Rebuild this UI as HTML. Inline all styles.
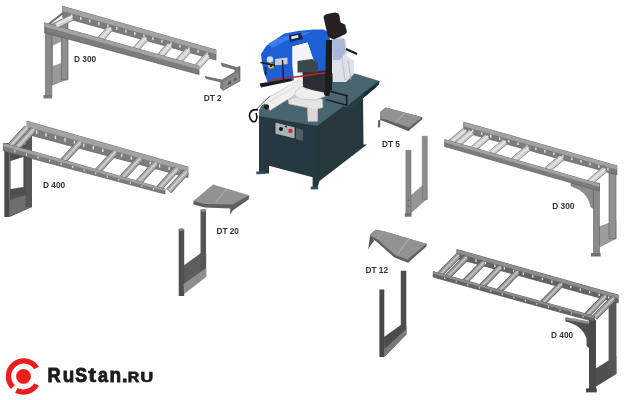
<!DOCTYPE html>
<html><head><meta charset="utf-8"><style>
html,body{margin:0;padding:0;background:#fff;width:633px;height:400px;overflow:hidden}
svg{display:block}
#w{}
text{font-family:"Liberation Sans",sans-serif}
</style></head><body><div id="w">
<svg width="633" height="400" viewBox="0 0 633 400"><defs><filter id="bl" x="0" y="0" width="100%" height="100%"><feGaussianBlur stdDeviation="0.45"/></filter></defs><rect width="633" height="400" fill="#fff"/><g filter="url(#bl)"><rect width="633" height="400" fill="#fff"/><polygon points="51.8,24.0 61.4,20.0 67.8,20.0 67.8,78.8 51.8,85.2" fill="#9a9a9a" stroke="#666" stroke-width="0.6" stroke-linejoin="round"/>
<polygon points="52.9,45.5 61.4,41.5 61.4,63.0 52.9,66.0" fill="#ffffff"/>
<polygon points="45.4,25.0 51.8,25.0 51.8,97.0 45.4,97.0" fill="#8a8a8a" stroke="#5c5c5c" stroke-width="0.6" stroke-linejoin="round"/>
<polygon points="61.4,19.3 67.8,19.3 67.8,80.0 61.4,80.0" fill="#8e8e8e" stroke="#5c5c5c" stroke-width="0.6" stroke-linejoin="round"/>
<polygon points="43.5,95.0 52.0,95.0 52.0,98.5 43.5,98.5" fill="#7a7a7a"/>
<polygon points="62.7,6.3 216.0,50.0 216.0,60.0 62.7,17.3" fill="#7c7c7c" stroke="#5c5c5c" stroke-width="0.7" stroke-linejoin="round"/>
<polygon points="62.7,6.3 216.0,50.0 216.0,54.2 62.7,10.9" fill="#a3a3a3"/>
<rect x="71.1" y="14.3" width="1.3" height="3.1" fill="#e8e8e8"/>
<rect x="80.1" y="16.9" width="1.3" height="3.0" fill="#e8e8e8"/>
<rect x="89.2" y="19.4" width="1.3" height="3.0" fill="#e8e8e8"/>
<rect x="98.2" y="22.0" width="1.3" height="3.0" fill="#e8e8e8"/>
<rect x="107.2" y="24.5" width="1.3" height="3.0" fill="#e8e8e8"/>
<rect x="116.2" y="27.0" width="1.3" height="3.0" fill="#e8e8e8"/>
<rect x="125.2" y="29.6" width="1.3" height="3.0" fill="#e8e8e8"/>
<rect x="134.2" y="32.1" width="1.3" height="2.9" fill="#e8e8e8"/>
<rect x="143.3" y="34.7" width="1.3" height="2.9" fill="#e8e8e8"/>
<rect x="152.3" y="37.2" width="1.3" height="2.9" fill="#e8e8e8"/>
<rect x="161.3" y="39.8" width="1.3" height="2.9" fill="#e8e8e8"/>
<rect x="170.3" y="42.3" width="1.3" height="2.9" fill="#e8e8e8"/>
<rect x="179.3" y="44.8" width="1.3" height="2.9" fill="#e8e8e8"/>
<rect x="188.3" y="47.4" width="1.3" height="2.8" fill="#e8e8e8"/>
<rect x="197.4" y="49.9" width="1.3" height="2.8" fill="#e8e8e8"/>
<rect x="206.4" y="52.5" width="1.3" height="2.8" fill="#e8e8e8"/>
<line x1="110.2" y1="28.4" x2="100.3" y2="39.3" stroke="#7a7a7a" stroke-width="6.7" stroke-linecap="butt"/>
<line x1="110.2" y1="28.4" x2="100.3" y2="39.3" stroke="#cbcbcb" stroke-width="5.5" stroke-linecap="butt"/>
<line x1="110.9" y1="27.7" x2="101.0" y2="38.6" stroke="#e6e6e6" stroke-width="1.9249999999999998" stroke-linecap="butt"/>
<line x1="145.5" y1="38.3" x2="135.6" y2="49.2" stroke="#7a7a7a" stroke-width="6.7" stroke-linecap="butt"/>
<line x1="145.5" y1="38.3" x2="135.6" y2="49.2" stroke="#cbcbcb" stroke-width="5.5" stroke-linecap="butt"/>
<line x1="146.1" y1="37.6" x2="136.2" y2="48.5" stroke="#e6e6e6" stroke-width="1.9249999999999998" stroke-linecap="butt"/>
<line x1="170.0" y1="45.1" x2="160.1" y2="56.1" stroke="#7a7a7a" stroke-width="6.7" stroke-linecap="butt"/>
<line x1="170.0" y1="45.1" x2="160.1" y2="56.1" stroke="#cbcbcb" stroke-width="5.5" stroke-linecap="butt"/>
<line x1="170.7" y1="44.5" x2="160.7" y2="55.4" stroke="#e6e6e6" stroke-width="1.9249999999999998" stroke-linecap="butt"/>
<line x1="188.4" y1="50.3" x2="178.5" y2="61.2" stroke="#7a7a7a" stroke-width="6.7" stroke-linecap="butt"/>
<line x1="188.4" y1="50.3" x2="178.5" y2="61.2" stroke="#cbcbcb" stroke-width="5.5" stroke-linecap="butt"/>
<line x1="189.1" y1="49.6" x2="179.1" y2="60.6" stroke="#e6e6e6" stroke-width="1.9249999999999998" stroke-linecap="butt"/>
<line x1="207.6" y1="55.6" x2="197.6" y2="66.6" stroke="#7a7a7a" stroke-width="6.7" stroke-linecap="butt"/>
<line x1="207.6" y1="55.6" x2="197.6" y2="66.6" stroke="#cbcbcb" stroke-width="5.5" stroke-linecap="butt"/>
<line x1="208.2" y1="55.0" x2="198.3" y2="65.9" stroke="#e6e6e6" stroke-width="1.9249999999999998" stroke-linecap="butt"/>
<polygon points="44.7,22.7 199.0,66.0 199.0,74.5 44.7,32.7" fill="#7c7c7c" stroke="#5c5c5c" stroke-width="0.7" stroke-linejoin="round"/>
<polygon points="44.7,22.7 199.0,66.0 199.0,69.4 44.7,26.7" fill="#a3a3a3"/>
<line x1="63.0" y1="13.0" x2="49.0" y2="24.0" stroke="#6a6a6a" stroke-width="2" stroke-linecap="butt"/>
<line x1="72.0" y1="17.5" x2="56.0" y2="25.5" stroke="#7d7d7d" stroke-width="6.5" stroke-linecap="butt"/>
<line x1="72.0" y1="17.5" x2="56.0" y2="25.5" stroke="#d2d2d2" stroke-width="5" stroke-linecap="butt"/>
<line x1="72.5" y1="16.5" x2="56.5" y2="24.5" stroke="#ececec" stroke-width="1.6" stroke-linecap="butt"/>
<text x="74" y="61.6" font-family="Liberation Sans, sans-serif" font-size="8.3" font-weight="bold" fill="#333" >D 300</text>
<polygon points="221.5,63.0 236.5,67.5 240.0,66.5 240.0,81.0 223.0,90.5 220.5,88.0 221.0,82.0 206.0,78.5 205.0,76.5 222.0,80.0 235.0,72.0 235.0,69.5 222.0,66.0" fill="#7b7b7b" stroke="#505050" stroke-width="0.6" stroke-linejoin="round"/>
<polygon points="223.0,82.0 238.0,72.5 239.5,80.5 223.0,90.0" fill="#8a8a8a"/>
<polygon points="228.0,82.0 231.0,80.5 231.0,83.5 228.0,85.0" fill="#5a5a5a"/>
<polygon points="234.0,78.5 236.5,77.0 236.5,80.0 234.0,81.5" fill="#5a5a5a"/>
<text x="203.7" y="100.6" font-family="Liberation Sans, sans-serif" font-size="8.3" font-weight="bold" fill="#333" >DT 2</text>
<polygon points="9.6,150.0 25.5,144.0 32.0,144.0 32.0,207.0 9.6,217.0" fill="#4f4f4f"/>
<polygon points="10.6,161.0 23.4,157.0 23.4,187.0 10.6,189.0" fill="#ffffff"/>
<polygon points="9.6,200.0 32.0,193.0 32.0,207.0 9.6,216.0" fill="#6e6e6e"/>
<polygon points="4.3,143.0 9.6,143.0 9.6,217.0 4.3,217.0" fill="#4a4a4a"/>
<polygon points="25.5,135.0 32.0,135.0 32.0,207.0 25.5,207.0" fill="#555555"/>
<polygon points="27.0,121.2 188.0,167.0 188.0,177.5 27.0,134.2" fill="#7c7c7c" stroke="#5c5c5c" stroke-width="0.7" stroke-linejoin="round"/>
<polygon points="27.0,121.2 188.0,167.0 188.0,171.4 27.0,126.7" fill="#a3a3a3"/>
<rect x="35.9" y="130.3" width="1.3" height="3.6" fill="#e8e8e8"/>
<rect x="45.3" y="132.9" width="1.3" height="3.6" fill="#e8e8e8"/>
<rect x="54.8" y="135.6" width="1.3" height="3.5" fill="#e8e8e8"/>
<rect x="64.3" y="138.2" width="1.3" height="3.5" fill="#e8e8e8"/>
<rect x="73.8" y="140.8" width="1.3" height="3.4" fill="#e8e8e8"/>
<rect x="83.2" y="143.4" width="1.3" height="3.4" fill="#e8e8e8"/>
<rect x="92.7" y="146.0" width="1.3" height="3.4" fill="#e8e8e8"/>
<rect x="102.2" y="148.7" width="1.3" height="3.3" fill="#e8e8e8"/>
<rect x="111.6" y="151.3" width="1.3" height="3.3" fill="#e8e8e8"/>
<rect x="121.1" y="153.9" width="1.3" height="3.2" fill="#e8e8e8"/>
<rect x="130.6" y="156.5" width="1.3" height="3.2" fill="#e8e8e8"/>
<rect x="140.0" y="159.1" width="1.3" height="3.1" fill="#e8e8e8"/>
<rect x="149.5" y="161.8" width="1.3" height="3.1" fill="#e8e8e8"/>
<rect x="159.0" y="164.4" width="1.3" height="3.1" fill="#e8e8e8"/>
<rect x="168.5" y="167.0" width="1.3" height="3.0" fill="#e8e8e8"/>
<rect x="177.9" y="169.6" width="1.3" height="3.0" fill="#e8e8e8"/>
<line x1="27.0" y1="127.7" x2="10.3" y2="146.0" stroke="#5f5f5f" stroke-width="6.7" stroke-linecap="butt"/>
<line x1="27.0" y1="127.7" x2="10.3" y2="146.0" stroke="#a5a5a5" stroke-width="5.5" stroke-linecap="butt"/>
<line x1="27.7" y1="127.0" x2="10.9" y2="145.3" stroke="#cfcfcf" stroke-width="1.9249999999999998" stroke-linecap="butt"/>
<line x1="33.4" y1="129.5" x2="16.7" y2="147.8" stroke="#5f5f5f" stroke-width="6.7" stroke-linecap="butt"/>
<line x1="33.4" y1="129.5" x2="16.7" y2="147.8" stroke="#a5a5a5" stroke-width="5.5" stroke-linecap="butt"/>
<line x1="34.1" y1="128.8" x2="17.3" y2="147.1" stroke="#cfcfcf" stroke-width="1.9249999999999998" stroke-linecap="butt"/>
<line x1="80.1" y1="142.4" x2="63.1" y2="161.0" stroke="#5f5f5f" stroke-width="6.7" stroke-linecap="butt"/>
<line x1="80.1" y1="142.4" x2="63.1" y2="161.0" stroke="#a5a5a5" stroke-width="5.5" stroke-linecap="butt"/>
<line x1="80.8" y1="141.7" x2="63.7" y2="160.3" stroke="#cfcfcf" stroke-width="1.9249999999999998" stroke-linecap="butt"/>
<line x1="115.1" y1="152.1" x2="97.8" y2="170.9" stroke="#5f5f5f" stroke-width="6.7" stroke-linecap="butt"/>
<line x1="115.1" y1="152.1" x2="97.8" y2="170.9" stroke="#a5a5a5" stroke-width="5.5" stroke-linecap="butt"/>
<line x1="115.7" y1="151.4" x2="98.5" y2="170.2" stroke="#cfcfcf" stroke-width="1.9249999999999998" stroke-linecap="butt"/>
<line x1="139.7" y1="158.9" x2="122.3" y2="177.8" stroke="#5f5f5f" stroke-width="6.7" stroke-linecap="butt"/>
<line x1="139.7" y1="158.9" x2="122.3" y2="177.8" stroke="#a5a5a5" stroke-width="5.5" stroke-linecap="butt"/>
<line x1="140.4" y1="158.2" x2="122.9" y2="177.2" stroke="#cfcfcf" stroke-width="1.9249999999999998" stroke-linecap="butt"/>
<line x1="155.8" y1="163.3" x2="138.3" y2="182.4" stroke="#5f5f5f" stroke-width="6.7" stroke-linecap="butt"/>
<line x1="155.8" y1="163.3" x2="138.3" y2="182.4" stroke="#a5a5a5" stroke-width="5.5" stroke-linecap="butt"/>
<line x1="156.5" y1="162.7" x2="138.9" y2="181.7" stroke="#cfcfcf" stroke-width="1.9249999999999998" stroke-linecap="butt"/>
<line x1="176.7" y1="169.1" x2="159.1" y2="188.3" stroke="#5f5f5f" stroke-width="6.7" stroke-linecap="butt"/>
<line x1="176.7" y1="169.1" x2="159.1" y2="188.3" stroke="#a5a5a5" stroke-width="5.5" stroke-linecap="butt"/>
<line x1="177.4" y1="168.5" x2="159.7" y2="187.7" stroke="#cfcfcf" stroke-width="1.9249999999999998" stroke-linecap="butt"/>
<line x1="186.4" y1="171.8" x2="168.7" y2="191.0" stroke="#5f5f5f" stroke-width="6.7" stroke-linecap="butt"/>
<line x1="186.4" y1="171.8" x2="168.7" y2="191.0" stroke="#a5a5a5" stroke-width="5.5" stroke-linecap="butt"/>
<line x1="187.0" y1="171.1" x2="169.3" y2="190.4" stroke="#cfcfcf" stroke-width="1.9249999999999998" stroke-linecap="butt"/>
<polygon points="3.4,143.0 165.0,189.0 165.0,194.0 3.4,151.0" fill="#7c7c7c" stroke="#5c5c5c" stroke-width="0.7" stroke-linejoin="round"/>
<polygon points="3.4,143.0 165.0,189.0 165.0,191.0 3.4,146.2" fill="#a3a3a3"/>
<rect x="14.3" y="150.2" width="1.2" height="2.3" fill="#d8d8d8"/>
<rect x="25.9" y="153.4" width="1.2" height="2.3" fill="#d8d8d8"/>
<rect x="37.4" y="156.5" width="1.2" height="2.2" fill="#d8d8d8"/>
<rect x="49.0" y="159.7" width="1.2" height="2.1" fill="#d8d8d8"/>
<rect x="60.5" y="162.9" width="1.2" height="2.1" fill="#d8d8d8"/>
<rect x="72.1" y="166.1" width="1.2" height="2.0" fill="#d8d8d8"/>
<rect x="83.6" y="169.2" width="1.2" height="1.9" fill="#d8d8d8"/>
<rect x="95.1" y="172.4" width="1.2" height="1.9" fill="#d8d8d8"/>
<rect x="106.7" y="175.6" width="1.2" height="1.8" fill="#d8d8d8"/>
<rect x="118.2" y="178.8" width="1.2" height="1.8" fill="#d8d8d8"/>
<rect x="129.8" y="182.0" width="1.2" height="1.7" fill="#d8d8d8"/>
<rect x="141.3" y="185.1" width="1.2" height="1.6" fill="#d8d8d8"/>
<rect x="152.9" y="188.3" width="1.2" height="1.6" fill="#d8d8d8"/>
<text x="43" y="188.4" font-family="Liberation Sans, sans-serif" font-size="8.3" font-weight="bold" fill="#333" >D 400</text>
<polygon points="599.4,186.0 609.0,176.0 616.0,174.5 616.0,238.6 599.4,247.0" fill="#ffffff"/>
<polygon points="599.4,226.8 616.0,220.8 616.0,238.6 599.4,247.0" fill="#9c9c9c" stroke="#6a6a6a" stroke-width="0.5" stroke-linejoin="round"/>
<path d="M571,182 L594,186 L594,209 L591,207 Q588,191 571,186 Z" fill="#8c8c8c" stroke="#606060" stroke-width="0.5"/>
<polygon points="593.5,183.0 599.4,183.0 599.4,255.3 593.5,255.3" fill="#8a8a8a" stroke="#5a5a5a" stroke-width="0.6" stroke-linejoin="round"/>
<polygon points="609.0,172.0 616.0,172.0 616.0,238.6 609.0,238.6" fill="#929292" stroke="#5a5a5a" stroke-width="0.6" stroke-linejoin="round"/>
<polygon points="591.0,253.0 600.6,253.0 600.6,256.5 591.0,256.5" fill="#6e6e6e"/>
<polygon points="463.7,122.1 616.9,165.8 616.9,174.8 463.7,132.1" fill="#7c7c7c" stroke="#5c5c5c" stroke-width="0.7" stroke-linejoin="round"/>
<polygon points="463.7,122.1 616.9,165.8 616.9,169.6 463.7,126.3" fill="#a3a3a3"/>
<rect x="472.1" y="129.6" width="1.3" height="2.8" fill="#e8e8e8"/>
<rect x="481.1" y="132.2" width="1.3" height="2.8" fill="#e8e8e8"/>
<rect x="490.1" y="134.7" width="1.3" height="2.8" fill="#e8e8e8"/>
<rect x="499.1" y="137.3" width="1.3" height="2.7" fill="#e8e8e8"/>
<rect x="508.2" y="139.8" width="1.3" height="2.7" fill="#e8e8e8"/>
<rect x="517.2" y="142.3" width="1.3" height="2.7" fill="#e8e8e8"/>
<rect x="526.2" y="144.9" width="1.3" height="2.7" fill="#e8e8e8"/>
<rect x="535.2" y="147.4" width="1.3" height="2.7" fill="#e8e8e8"/>
<rect x="544.2" y="150.0" width="1.3" height="2.7" fill="#e8e8e8"/>
<rect x="553.2" y="152.5" width="1.3" height="2.6" fill="#e8e8e8"/>
<rect x="562.2" y="155.1" width="1.3" height="2.6" fill="#e8e8e8"/>
<rect x="571.2" y="157.6" width="1.3" height="2.6" fill="#e8e8e8"/>
<rect x="580.3" y="160.1" width="1.3" height="2.6" fill="#e8e8e8"/>
<rect x="589.3" y="162.7" width="1.3" height="2.6" fill="#e8e8e8"/>
<rect x="598.3" y="165.2" width="1.3" height="2.6" fill="#e8e8e8"/>
<rect x="607.3" y="167.8" width="1.3" height="2.5" fill="#e8e8e8"/>
<line x1="465.2" y1="130.5" x2="451.2" y2="142.4" stroke="#7a7a7a" stroke-width="6.7" stroke-linecap="butt"/>
<line x1="465.2" y1="130.5" x2="451.2" y2="142.4" stroke="#cbcbcb" stroke-width="5.5" stroke-linecap="butt"/>
<line x1="465.9" y1="129.9" x2="451.9" y2="141.7" stroke="#e6e6e6" stroke-width="1.9249999999999998" stroke-linecap="butt"/>
<line x1="471.4" y1="132.2" x2="457.3" y2="144.1" stroke="#7a7a7a" stroke-width="6.7" stroke-linecap="butt"/>
<line x1="471.4" y1="132.2" x2="457.3" y2="144.1" stroke="#cbcbcb" stroke-width="5.5" stroke-linecap="butt"/>
<line x1="472.0" y1="131.6" x2="457.9" y2="143.5" stroke="#e6e6e6" stroke-width="1.9249999999999998" stroke-linecap="butt"/>
<line x1="487.4" y1="136.7" x2="473.3" y2="148.7" stroke="#7a7a7a" stroke-width="6.7" stroke-linecap="butt"/>
<line x1="487.4" y1="136.7" x2="473.3" y2="148.7" stroke="#cbcbcb" stroke-width="5.5" stroke-linecap="butt"/>
<line x1="488.1" y1="136.1" x2="473.9" y2="148.1" stroke="#e6e6e6" stroke-width="1.9249999999999998" stroke-linecap="butt"/>
<line x1="505.1" y1="141.7" x2="490.8" y2="153.7" stroke="#7a7a7a" stroke-width="6.7" stroke-linecap="butt"/>
<line x1="505.1" y1="141.7" x2="490.8" y2="153.7" stroke="#cbcbcb" stroke-width="5.5" stroke-linecap="butt"/>
<line x1="505.7" y1="141.0" x2="491.4" y2="153.1" stroke="#e6e6e6" stroke-width="1.9249999999999998" stroke-linecap="butt"/>
<line x1="528.0" y1="148.1" x2="513.6" y2="160.3" stroke="#7a7a7a" stroke-width="6.7" stroke-linecap="butt"/>
<line x1="528.0" y1="148.1" x2="513.6" y2="160.3" stroke="#cbcbcb" stroke-width="5.5" stroke-linecap="butt"/>
<line x1="528.7" y1="147.5" x2="514.2" y2="159.6" stroke="#e6e6e6" stroke-width="1.9249999999999998" stroke-linecap="butt"/>
<line x1="561.7" y1="157.6" x2="547.0" y2="169.9" stroke="#7a7a7a" stroke-width="6.7" stroke-linecap="butt"/>
<line x1="561.7" y1="157.6" x2="547.0" y2="169.9" stroke="#cbcbcb" stroke-width="5.5" stroke-linecap="butt"/>
<line x1="562.4" y1="156.9" x2="547.7" y2="169.3" stroke="#e6e6e6" stroke-width="1.9249999999999998" stroke-linecap="butt"/>
<line x1="604.6" y1="169.6" x2="589.6" y2="182.2" stroke="#7a7a7a" stroke-width="6.7" stroke-linecap="butt"/>
<line x1="604.6" y1="169.6" x2="589.6" y2="182.2" stroke="#cbcbcb" stroke-width="5.5" stroke-linecap="butt"/>
<line x1="605.3" y1="168.9" x2="590.3" y2="181.5" stroke="#e6e6e6" stroke-width="1.9249999999999998" stroke-linecap="butt"/>
<polygon points="444.7,139.5 599.5,184.0 599.5,191.0 444.7,146.5" fill="#7c7c7c" stroke="#5c5c5c" stroke-width="0.7" stroke-linejoin="round"/>
<polygon points="444.7,139.5 599.5,184.0 599.5,186.8 444.7,142.3" fill="#a3a3a3"/>
<text x="552.3" y="209.4" font-family="Liberation Sans, sans-serif" font-size="8.3" font-weight="bold" fill="#333" >D 300</text>
<polygon points="595.4,319.0 608.6,306.0 616.4,304.4 616.4,374.0 595.4,387.0" fill="#ffffff"/>
<polygon points="595.4,368.7 616.4,355.6 616.4,374.0 595.4,387.0" fill="#505050"/>
<path d="M565.5,318 L590,322 L590,349 L586.5,346 L586.5,338.5 Q582,325 565.5,321.5 Z" fill="#4f4f4f"/>
<polygon points="565.5,317.0 595.5,322.5 595.5,325.0 565.5,320.0" fill="#8a8a8a"/>
<polygon points="589.0,320.0 596.0,320.0 596.0,391.0 589.0,391.0" fill="#4a4a4a"/>
<polygon points="608.6,300.0 616.4,300.0 616.4,374.0 608.6,374.0" fill="#575757"/>
<polygon points="586.0,388.4 596.7,388.4 596.7,392.4 586.0,392.4" fill="#444"/>
<polygon points="456.9,249.5 618.2,295.0 618.2,303.0 456.9,258.5" fill="#646464" stroke="#4a4a4a" stroke-width="0.7" stroke-linejoin="round"/>
<polygon points="456.9,249.5 618.2,295.0 618.2,298.4 456.9,253.3" fill="#8e8e8e"/>
<rect x="465.8" y="256.6" width="1.3" height="2.5" fill="#e8e8e8"/>
<rect x="475.3" y="259.3" width="1.3" height="2.5" fill="#e8e8e8"/>
<rect x="484.8" y="261.9" width="1.3" height="2.5" fill="#e8e8e8"/>
<rect x="494.3" y="264.6" width="1.3" height="2.5" fill="#e8e8e8"/>
<rect x="503.7" y="267.2" width="1.3" height="2.4" fill="#e8e8e8"/>
<rect x="513.2" y="269.9" width="1.3" height="2.4" fill="#e8e8e8"/>
<rect x="522.7" y="272.5" width="1.3" height="2.4" fill="#e8e8e8"/>
<rect x="532.2" y="275.2" width="1.3" height="2.4" fill="#e8e8e8"/>
<rect x="541.7" y="277.8" width="1.3" height="2.4" fill="#e8e8e8"/>
<rect x="551.2" y="280.5" width="1.3" height="2.4" fill="#e8e8e8"/>
<rect x="560.7" y="283.1" width="1.3" height="2.3" fill="#e8e8e8"/>
<rect x="570.2" y="285.8" width="1.3" height="2.3" fill="#e8e8e8"/>
<rect x="579.6" y="288.4" width="1.3" height="2.3" fill="#e8e8e8"/>
<rect x="589.1" y="291.1" width="1.3" height="2.3" fill="#e8e8e8"/>
<rect x="598.6" y="293.7" width="1.3" height="2.3" fill="#e8e8e8"/>
<rect x="608.1" y="296.4" width="1.3" height="2.3" fill="#e8e8e8"/>
<line x1="458.5" y1="255.3" x2="439.9" y2="274.4" stroke="#555555" stroke-width="6.2" stroke-linecap="butt"/>
<line x1="458.5" y1="255.3" x2="439.9" y2="274.4" stroke="#959595" stroke-width="5" stroke-linecap="butt"/>
<line x1="459.1" y1="254.7" x2="440.5" y2="273.8" stroke="#c4c4c4" stroke-width="1.75" stroke-linecap="butt"/>
<line x1="466.3" y1="257.5" x2="447.6" y2="276.6" stroke="#555555" stroke-width="6.2" stroke-linecap="butt"/>
<line x1="466.3" y1="257.5" x2="447.6" y2="276.6" stroke="#959595" stroke-width="5" stroke-linecap="butt"/>
<line x1="466.9" y1="256.9" x2="448.2" y2="276.0" stroke="#c4c4c4" stroke-width="1.75" stroke-linecap="butt"/>
<line x1="483.7" y1="262.4" x2="465.1" y2="281.4" stroke="#555555" stroke-width="6.2" stroke-linecap="butt"/>
<line x1="483.7" y1="262.4" x2="465.1" y2="281.4" stroke="#959595" stroke-width="5" stroke-linecap="butt"/>
<line x1="484.3" y1="261.8" x2="465.7" y2="280.8" stroke="#c4c4c4" stroke-width="1.75" stroke-linecap="butt"/>
<line x1="500.5" y1="267.0" x2="481.8" y2="286.1" stroke="#555555" stroke-width="6.2" stroke-linecap="butt"/>
<line x1="500.5" y1="267.0" x2="481.8" y2="286.1" stroke="#959595" stroke-width="5" stroke-linecap="butt"/>
<line x1="501.1" y1="266.4" x2="482.4" y2="285.5" stroke="#c4c4c4" stroke-width="1.75" stroke-linecap="butt"/>
<line x1="517.7" y1="271.8" x2="499.1" y2="290.9" stroke="#555555" stroke-width="6.2" stroke-linecap="butt"/>
<line x1="517.7" y1="271.8" x2="499.1" y2="290.9" stroke="#959595" stroke-width="5" stroke-linecap="butt"/>
<line x1="518.3" y1="271.2" x2="499.7" y2="290.3" stroke="#c4c4c4" stroke-width="1.75" stroke-linecap="butt"/>
<line x1="561.3" y1="284.0" x2="542.7" y2="302.9" stroke="#555555" stroke-width="6.2" stroke-linecap="butt"/>
<line x1="561.3" y1="284.0" x2="542.7" y2="302.9" stroke="#959595" stroke-width="5" stroke-linecap="butt"/>
<line x1="561.9" y1="283.4" x2="543.3" y2="302.3" stroke="#c4c4c4" stroke-width="1.75" stroke-linecap="butt"/>
<line x1="605.3" y1="296.2" x2="586.8" y2="315.2" stroke="#555555" stroke-width="6.2" stroke-linecap="butt"/>
<line x1="605.3" y1="296.2" x2="586.8" y2="315.2" stroke="#959595" stroke-width="5" stroke-linecap="butt"/>
<line x1="605.9" y1="295.6" x2="587.4" y2="314.6" stroke="#c4c4c4" stroke-width="1.75" stroke-linecap="butt"/>
<line x1="613.4" y1="298.5" x2="594.9" y2="317.4" stroke="#555555" stroke-width="6.2" stroke-linecap="butt"/>
<line x1="613.4" y1="298.5" x2="594.9" y2="317.4" stroke="#959595" stroke-width="5" stroke-linecap="butt"/>
<line x1="614.0" y1="297.9" x2="595.5" y2="316.8" stroke="#c4c4c4" stroke-width="1.75" stroke-linecap="butt"/>
<polygon points="433.2,271.6 594.5,316.3 594.5,321.8 433.2,277.1" fill="#646464" stroke="#4a4a4a" stroke-width="0.7" stroke-linejoin="round"/>
<polygon points="433.2,271.6 594.5,316.3 594.5,318.5 433.2,273.8" fill="#8e8e8e"/>
<rect x="444.1" y="277.5" width="1.2" height="1.6" fill="#d8d8d8"/>
<rect x="455.6" y="280.7" width="1.2" height="1.6" fill="#d8d8d8"/>
<rect x="467.2" y="283.9" width="1.2" height="1.6" fill="#d8d8d8"/>
<rect x="478.7" y="287.1" width="1.2" height="1.6" fill="#d8d8d8"/>
<rect x="490.2" y="290.3" width="1.2" height="1.6" fill="#d8d8d8"/>
<rect x="501.7" y="293.5" width="1.2" height="1.6" fill="#d8d8d8"/>
<rect x="513.2" y="296.7" width="1.2" height="1.6" fill="#d8d8d8"/>
<rect x="524.8" y="299.9" width="1.2" height="1.6" fill="#d8d8d8"/>
<rect x="536.3" y="303.1" width="1.2" height="1.6" fill="#d8d8d8"/>
<rect x="547.8" y="306.3" width="1.2" height="1.6" fill="#d8d8d8"/>
<rect x="559.3" y="309.5" width="1.2" height="1.6" fill="#d8d8d8"/>
<rect x="570.9" y="312.7" width="1.2" height="1.6" fill="#d8d8d8"/>
<rect x="582.4" y="315.9" width="1.2" height="1.6" fill="#d8d8d8"/>
<text x="551" y="338" font-family="Liberation Sans, sans-serif" font-size="8.3" font-weight="bold" fill="#333" >D 400</text>
<polygon points="183.0,266.0 201.0,253.0 206.2,254.0 206.2,276.0 184.2,292.0" fill="#5d5d5d"/>
<polygon points="178.7,228.8 184.2,228.8 184.2,296.0 178.7,296.0" fill="#505050"/>
<polygon points="200.5,209.5 206.0,209.5 206.0,277.0 200.5,277.0" fill="#575757"/>
<polygon points="183.5,284.0 206.2,268.0 206.2,277.0 184.2,294.0" fill="#8e8e8e"/>
<ellipse cx="181.4" cy="229.5" rx="2.8" ry="1.3" fill="#8a8a8a"/><ellipse cx="203.3" cy="210.5" rx="2.8" ry="1.3" fill="#8a8a8a"/>
<polygon points="193.4,201.1 193.4,204.5 204.7,207.5 230.2,208.4 230.2,214.8 232.8,210.5 248.8,199.2 249.3,195.2" fill="#5e5e5e"/>
<polygon points="193.4,201.1 213.0,184.4 249.3,195.2 232.2,204.5 204.7,204.0" fill="#929292"/>
<line x1="227.3" y1="188.3" x2="215.5" y2="202.5" stroke="#b4b4b4" stroke-width="0.9" stroke-linecap="butt"/>
<text x="216.4" y="234.1" font-family="Liberation Sans, sans-serif" font-size="8.3" font-weight="bold" fill="#333" >DT 20</text>
<polygon points="411.0,195.3 422.3,185.2 427.3,186.0 427.3,198.7 411.0,213.3" fill="#959595"/>
<polygon points="405.9,150.3 411.0,150.3 411.0,215.6 405.9,215.6" fill="#878787" stroke="#666" stroke-width="0.5" stroke-linejoin="round"/>
<polygon points="422.3,136.3 427.3,136.3 427.3,199.8 422.3,199.8" fill="#8c8c8c" stroke="#666" stroke-width="0.5" stroke-linejoin="round"/>
<polygon points="404.8,213.3 411.5,213.3 411.5,216.7 404.8,216.7" fill="#707070"/>
<circle cx="408.3" cy="200" r="0.8" fill="#555"/><circle cx="408.3" cy="206" r="0.8" fill="#555"/>
<polygon points="378.0,120.6 380.2,119.5 380.2,127.2 378.0,127.4" fill="#666"/>
<polygon points="380.2,112.0 385.5,107.5 422.5,117.3 422.0,119.4 410.2,129.6 408.5,131.3 394.5,125.5 386.3,122.3 380.2,120.0" fill="#5e5e5e"/>
<polygon points="380.2,112.0 385.5,107.5 422.5,117.3 421.0,118.3 409.0,127.6 395.0,122.8 386.5,119.8 380.6,118.5" fill="#929292"/>
<line x1="405.2" y1="112.8" x2="395.4" y2="122.2" stroke="#b9b9b9" stroke-width="1" stroke-linecap="butt"/>
<text x="382" y="147.3" font-family="Liberation Sans, sans-serif" font-size="8.3" font-weight="bold" fill="#333" >DT 5</text>
<polygon points="384.0,337.0 400.8,325.0 406.3,326.0 406.3,334.6 384.3,357.0" fill="#4c4c4c"/>
<polygon points="379.4,289.5 384.3,289.5 384.3,357.0 379.4,357.0" fill="#464646"/>
<polygon points="400.8,270.7 406.3,270.7 406.3,332.7 400.8,332.7" fill="#4d4d4d"/>
<polygon points="384.3,349.0 406.3,329.0 406.3,334.6 384.3,357.0" fill="#7a7a7a"/>
<polygon points="368.2,249.2 370.3,234.5 374.0,241.0 371.9,243.5" fill="#555"/>
<polygon points="370.3,234.5 375.5,229.8 384.0,231.3 427.0,243.9 426.4,246.6 408.0,262.8 394.4,257.6 376.6,241.8 370.3,237.6" fill="#5e5e5e"/>
<polygon points="370.3,234.5 375.5,229.8 384.0,231.3 427.0,243.9 425.0,245.0 407.5,259.8 395.0,255.0 377.5,239.2 370.6,236.0" fill="#929292"/>
<line x1="409.0" y1="238.7" x2="397.6" y2="254.2" stroke="#b9b9b9" stroke-width="1" stroke-linecap="butt"/>
<line x1="384.0" y1="231.3" x2="377.0" y2="239.0" stroke="#b0b0b0" stroke-width="0.8" stroke-linecap="butt"/>
<text x="365.5" y="272.6" font-family="Liberation Sans, sans-serif" font-size="8.3" font-weight="bold" fill="#333" >DT 12</text>
<polygon points="316.0,124.0 350.0,100.0 363.0,95.0 363.5,144.5 367.0,144.5 319.5,181.0 317.0,189.0 316.0,189.0" fill="#25373d"/>
<polygon points="259.0,115.0 317.0,125.0 317.0,189.0 312.6,189.0 312.6,177.2 269.0,165.8 269.0,173.4 259.0,173.4" fill="#28393f"/>
<polygon points="256.3,171.5 265.0,171.5 265.2,174.0 256.3,174.2" fill="#34505a"/>
<polygon points="310.7,186.6 318.2,186.6 318.2,189.4 310.7,189.4" fill="#34505a"/>
<polygon points="259.0,116.0 259.0,110.5 262.0,105.0 300.0,88.0 335.0,72.0 350.0,72.0 379.5,81.0 379.0,84.5 352.0,107.5 343.0,106.5 317.0,126.0" fill="#486670"/>
<polygon points="379.5,81.0 379.0,84.5 352.0,107.5 347.0,106.5 350.0,103.5 376.5,82.5" fill="#263b41"/>
<polygon points="363.5,94.0 374.5,85.5 376.5,87.0 365.5,96.0" fill="#1c2b30"/>
<polygon points="275.0,122.0 295.0,127.0 295.0,139.0 275.0,134.0" fill="#aab4b6" stroke="#1d2b30" stroke-width="0.8" stroke-linejoin="round"/>
<circle cx="281" cy="129" r="2" fill="#111"/>
<circle cx="290.5" cy="131" r="2.2" fill="#d8262a"/>
<circle cx="286" cy="126.5" r="1" fill="#222"/>
<polygon points="296.0,128.0 303.0,130.0 303.0,141.0 296.0,139.0" fill="#4d6469"/>
<polygon points="286.0,97.0 303.0,86.0 312.0,92.0 300.0,103.0 290.0,104.0" fill="#d9d9d9"/>
<polygon points="262.5,101.0 299.5,79.5 306.0,88.0 270.0,110.5" fill="#f0f0f0" stroke="#a8a8a8" stroke-width="0.5" stroke-linejoin="round"/>
<line x1="265.0" y1="104.0" x2="302.0" y2="83.0" stroke="#d6d6d6" stroke-width="0.8" stroke-linecap="butt"/>
<circle cx="266.5" cy="106.8" r="2.6" fill="#222"/>
<line x1="255.0" y1="110.5" x2="270.0" y2="96.0" stroke="#444" stroke-width="0.8" stroke-linecap="butt"/>
<polygon points="288.5,100.0 296.0,97.0 322.5,99.0 323.0,107.5 317.5,109.0 317.5,121.2 308.0,121.2 307.5,107.8 288.7,104.0" fill="#e4e4e4" stroke="#a5a5a5" stroke-width="0.5" stroke-linejoin="round"/>
<polygon points="307.5,108.0 317.5,109.0 317.5,121.2 308.0,121.2" fill="#dcd6da"/>
<polygon points="295.0,92.0 300.0,87.5 311.0,84.5 322.5,86.5 326.5,91.0 326.0,96.0 316.0,100.0 300.0,99.0 295.0,96.0" fill="#eeeeee" stroke="#a8a8a8" stroke-width="0.5" stroke-linejoin="round"/>
<polygon points="303.0,86.0 315.0,84.5 318.0,88.0 306.0,90.0" fill="#d0d0d0"/>
<polygon points="302.5,70.0 331.0,70.0 331.0,90.0 326.0,93.0 312.0,90.0 303.0,87.0" fill="#2a2d31"/>
<circle cx="327" cy="93" r="3.1" fill="#1d1d1d"/>
<line x1="330.0" y1="91.2" x2="348.0" y2="96.0" stroke="#1c1c1c" stroke-width="1.4" stroke-linecap="butt"/>
<line x1="326.0" y1="99.6" x2="346.0" y2="105.0" stroke="#1c1c1c" stroke-width="1.4" stroke-linecap="butt"/>
<line x1="346.6" y1="95.5" x2="346.8" y2="106.0" stroke="#1c1c1c" stroke-width="1.6" stroke-linecap="butt"/>
<path d="M258 110 C250 108 247 116 252 121 C256 124 258 118 256 113" fill="none" stroke="#111" stroke-width="1.6"/>
<polygon points="331.0,37.0 340.0,36.0 346.0,40.0 347.0,56.0 354.0,61.0 354.0,74.0 346.0,82.0 333.0,82.0" fill="#dde1ea"/>
<polygon points="332.0,40.0 344.0,38.0 346.0,52.0 340.0,60.0 333.0,60.0" fill="#a9b8d6"/>
<line x1="342.0" y1="58.0" x2="345.0" y2="80.0" stroke="#b5b8c0" stroke-width="0.8" stroke-linecap="butt"/>
<line x1="348.0" y1="60.0" x2="351.0" y2="80.0" stroke="#b5b8c0" stroke-width="0.8" stroke-linecap="butt"/>
<polygon points="261.0,54.0 266.5,45.5 273.7,42.5 277.5,38.0 284.5,33.5 298.0,31.0 313.0,29.5 323.6,29.5 328.0,32.0 330.0,40.0 330.0,70.0 318.0,71.0 313.8,61.0 307.5,42.5 292.5,46.5 292.5,67.0 294.0,80.5 268.0,83.0 264.0,73.0 261.9,62.0" fill="#1f60d4"/>
<polygon points="268.0,44.0 278.0,38.0 300.0,33.0 312.0,31.5 300.0,37.0 285.0,41.0 272.0,48.0" fill="#3b7cf0"/>
<polygon points="292.5,46.5 307.5,42.5 313.8,61.0 298.0,62.0 292.5,67.0" fill="#f4f4f6"/>
<polygon points="288.7,35.5 301.0,32.8 303.0,39.0 290.0,42.0" fill="#17264f"/>
<polygon points="291.0,36.5 298.0,35.0 298.6,37.6 291.6,39.2" fill="#dfe6f5"/>
<polygon points="297.5,61.0 312.0,59.0 318.0,63.0 318.0,72.5 297.5,72.5" fill="#3a4648"/>
<line x1="270.0" y1="80.5" x2="331.0" y2="72.0" stroke="#c8202a" stroke-width="1.3" stroke-linecap="butt"/>
<path d="M323.5,17 Q324,14.5 327,14 L335,12.5 Q338.5,12.3 339.3,15 L340.5,22.5 L345,24.5 L347,32 L345.5,34 L334,39.5 L328,37 Z" fill="#272222"/>
<line x1="346.0" y1="49.0" x2="357.0" y2="54.0" stroke="#1a1a1a" stroke-width="2.2" stroke-linecap="butt"/>
<polygon points="326.0,40.0 332.0,40.0 332.0,90.0 325.0,92.0" fill="#1c1a1a"/>
<circle cx="270" cy="59.4" r="3.2" fill="#d9dee6"/>
<circle cx="271" cy="66" r="2.8" fill="#e6c21e"/>
<circle cx="271" cy="66" r="1.2" fill="#222"/>
<line x1="260.6" y1="62.5" x2="276.0" y2="65.5" stroke="#1a1a1a" stroke-width="1.6" stroke-linecap="butt"/>
<line x1="265.5" y1="67.0" x2="265.8" y2="75.0" stroke="#1a1a1a" stroke-width="1.5" stroke-linecap="butt"/>
<polygon points="275.0,59.0 287.5,57.5 287.5,64.0 275.0,65.5" fill="#c8cdd6"/>
<line x1="282.5" y1="60.0" x2="283.5" y2="80.0" stroke="#1a1a1a" stroke-width="1.3" stroke-linecap="butt"/>
<polygon points="259.5,83.5 291.0,78.2 292.0,81.0 261.0,87.5" fill="#1e1e1e"/>
<path d="M 36.6 367.9 A 15.3 15.3 0 1 0 12.9 387" fill="none" stroke="#ee1c1c" stroke-width="5.4"/>
<path d="M 16.3 390.3 A 15.3 15.3 0 0 0 36.6 384.5" fill="none" stroke="#ee1c1c" stroke-width="5.4"/>
<circle cx="23.5" cy="376.4" r="7.4" fill="#ee1c1c"/>
<text transform="translate(47.48,382.2) scale(0.907,1)" font-family="Liberation Sans, sans-serif" font-size="20" font-weight="bold" fill="#1b1b1b" stroke="#1b1b1b" stroke-width="0.88">R</text>
<text transform="translate(62.73,382.2) scale(0.942,1)" font-family="Liberation Sans, sans-serif" font-size="20" font-weight="bold" fill="#1b1b1b" stroke="#1b1b1b" stroke-width="0.85">u</text>
<text transform="translate(75.19,382.2) scale(0.872,1)" font-family="Liberation Sans, sans-serif" font-size="20.3" font-weight="bold" fill="#1b1b1b" stroke="#1b1b1b" stroke-width="0.92">S</text>
<text transform="translate(88.22,382.2) scale(1.181,1)" font-family="Liberation Sans, sans-serif" font-size="20" font-weight="bold" fill="#1b1b1b" stroke="#1b1b1b" stroke-width="0.68">t</text>
<text transform="translate(97.98,382.2) scale(0.901,1)" font-family="Liberation Sans, sans-serif" font-size="20" font-weight="bold" fill="#1b1b1b" stroke="#1b1b1b" stroke-width="0.89">a</text>
<text transform="translate(109.54,382.2) scale(0.952,1)" font-family="Liberation Sans, sans-serif" font-size="20" font-weight="bold" fill="#1b1b1b" stroke="#1b1b1b" stroke-width="0.84">n</text>
<text transform="translate(121.65,382.2) scale(1.064,1)" font-family="Liberation Sans, sans-serif" font-size="20" font-weight="bold" fill="#1b1b1b" stroke="#1b1b1b" stroke-width="0.75">.</text>
<text transform="translate(127.73,382.2) scale(1.048,1)" font-family="Liberation Sans, sans-serif" font-size="15.2" font-weight="bold" fill="#1b1b1b" stroke="#1b1b1b" stroke-width="0.76">R</text>
<text transform="translate(140.54,382.2) scale(1.160,1)" font-family="Liberation Sans, sans-serif" font-size="15.2" font-weight="bold" fill="#1b1b1b" stroke="#1b1b1b" stroke-width="0.69">U</text></g></svg>
</div></body></html>
